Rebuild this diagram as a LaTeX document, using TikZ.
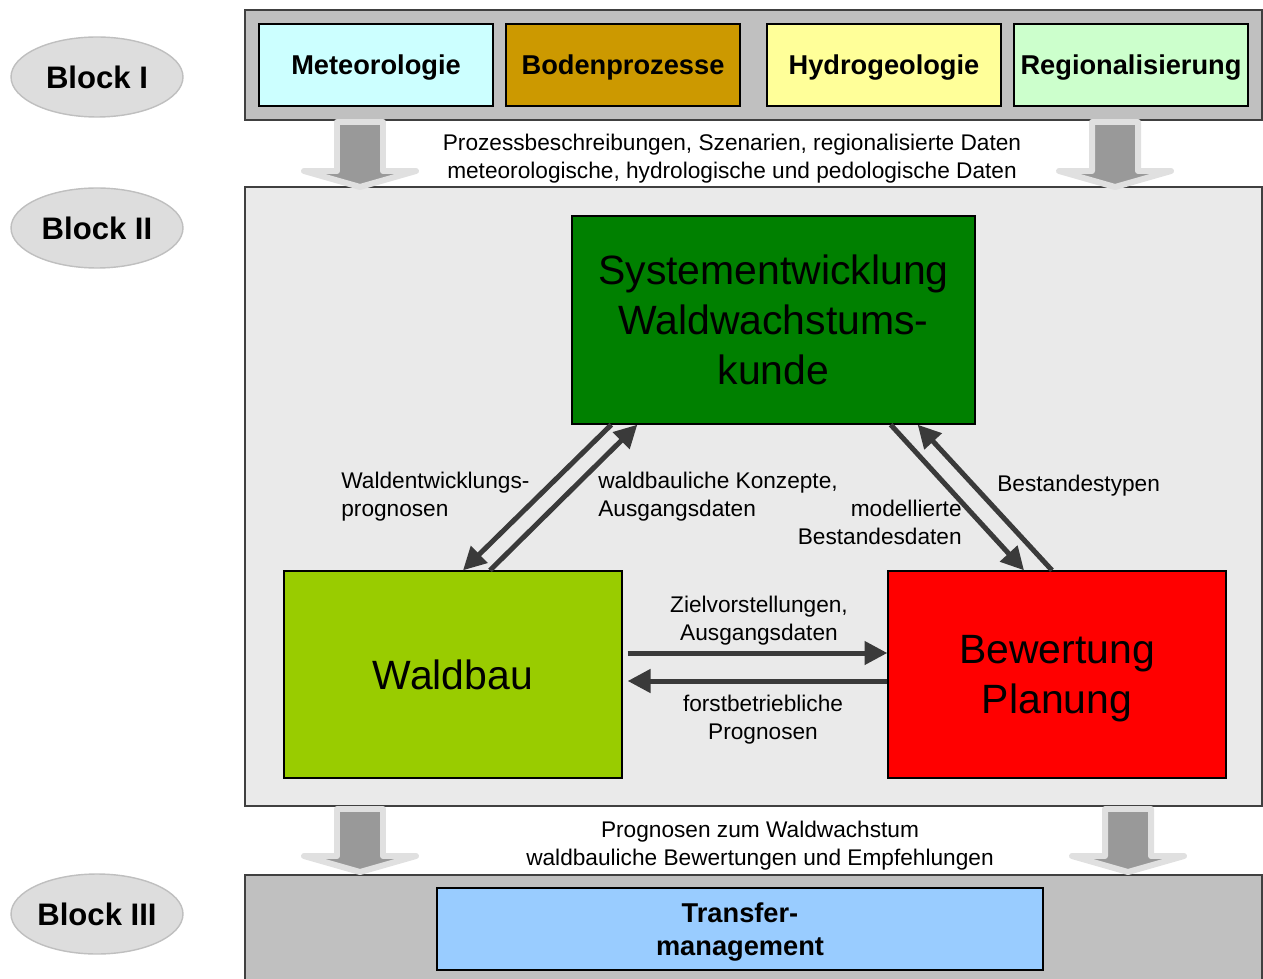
\documentclass[tikz,border=0pt]{standalone}
\usepackage{fontspec}
\setmainfont{Liberation Sans}
\usetikzlibrary{shapes.geometric,arrows.meta,calc}
\definecolor{blockgray}{HTML}{C0C0C0}
\definecolor{innergray}{HTML}{EAEAEA}
\definecolor{ovalgray}{HTML}{DDDDDD}
\definecolor{arrowdark}{HTML}{3A3A3A}
\definecolor{cmet}{HTML}{CCFFFF}
\definecolor{cboden}{HTML}{CC9900}
\definecolor{chydro}{HTML}{FFFF99}
\definecolor{cregio}{HTML}{CCFFCC}
\definecolor{csys}{HTML}{008000}
\definecolor{cwald}{HTML}{99CC00}
\definecolor{cbew}{HTML}{FF0000}
\definecolor{ctrans}{HTML}{99CCFF}
\begin{document}
\begin{tikzpicture}[x=0.02cm,y=-0.02cm,
    block/.style={draw=black!75,line width=0.8pt,fill=blockgray,minimum width=20.34cm,minimum height=2.2cm,inner sep=0pt},
    oval/.style={ellipse,draw=black!25,line width=0.8pt,fill=ovalgray,inner sep=0pt,minimum width=3.44cm,minimum height=1.6cm,font=\fontsize{17.7}{20}\selectfont\bfseries},
    topbox/.style={draw=black,line width=0.8pt,minimum width=4.68cm,minimum height=1.64cm,inner sep=0pt,text depth=-1.8pt,font=\fontsize{15.5}{18}\selectfont\bfseries},
    bigbox/.style={draw=black,line width=0.8pt,minimum width=6.76cm,minimum height=4.14cm,inner sep=0pt,align=center,font=\fontsize{23.3}{28.5}\selectfont},
    lbl/.style={inner sep=0pt,font=\fontsize{12.9}{15.9}\selectfont},
    flow/.style={draw=arrowdark,line width=2.85pt,-{Triangle[length=13pt,width=13pt]}},
    bigarrow/.style={fill=black!40,draw=black!12,line width=3.4pt,line join=round}]
\useasboundingbox (0,0) rectangle (1263,979);

\node[block] (blockI) at (753.5,65) {};
\node[block,fill=innergray,minimum height=12.38cm] (blockII) at (753.5,496.5) {};
\node[block] (blockIII) at (753.5,930) {};

\node[oval] (ovI) at (97,77) {Block I};
\node[oval] (ovII) at (97,228) {Block II};
\node[oval] (ovIII) at (97,914) {Block III};

\node[topbox,fill=cmet] (met) at (376,65) {Meteorologie};
\node[topbox,fill=cboden] (boden) at (623,65) {Bodenprozesse};
\node[topbox,fill=chydro] (hydro) at (884,65) {Hydrogeologie};
\node[topbox,fill=cregio] (regio) at (1131,65) {Regionalisierung};

\foreach \cx/\ya/\yb in {360/122/187, 1115/122/187, 360/809/872, 1128/809/872}
    \draw[bigarrow] (\cx-23,\ya) -- (\cx+23,\ya) -- (\cx+23,\yb-16) -- (\cx+56,\yb-16)
        -- (\cx,\yb) -- (\cx-56,\yb-16) -- (\cx-23,\yb-16) -- cycle;

\node[lbl,align=center] (lblTop) at (732,159) {Prozessbeschreibungen, Szenarien, regionalisierte Daten\\meteorologische, hydrologische und pedologische Daten};
\node[lbl,align=center] (lblBot) at (760,845.5) {Prognosen zum Waldwachstum\\waldbauliche Bewertungen und Empfehlungen};

\node[bigbox,fill=csys,minimum width=8.06cm,minimum height=4.16cm,text depth=-2.3pt] (sys) at (773.5,320) {Systementwicklung\\Waldwachstums-\\kunde};
\node[bigbox,fill=cwald] (waldbau) at (453,674.5) {Waldbau};
\node[bigbox,fill=cbew,text depth=0pt] (bew) at (1057,674.5) {Bewertung\\Planung};

\node[topbox,fill=ctrans,minimum width=12.12cm,align=center,text depth=0pt,font=\fontsize{15.5}{18.8}\selectfont\bfseries] (trans) at (740,929) {Transfer-\\management};

\draw[flow] ($(sys.south west)+(40,0)$) -- ($(waldbau.north)+(10,0)$);
\draw[flow] ($(waldbau.north)+(37,0)$) -- ($(sys.south west)+(66,0)$);
\draw[flow] ($(sys.south east)+(-85,0)$) -- ($(bew.north)+(-33,0)$);
\draw[flow] ($(bew.north)+(-5,0)$) -- ($(sys.south east)+(-58,0)$);
\draw[flow] ($(waldbau.east)+(5,-21.5)$) -- ($(bew.west)+(0,-21.5)$);
\draw[flow] ($(bew.west)+(0,6.5)$) -- ($(waldbau.east)+(5,6.5)$);

\node[lbl,align=left,anchor=west] (lblWE) at (341,497) {Waldentwicklungs-\\prognosen};
\node[lbl,align=left,anchor=west] (lblWK) at (598,497) {waldbauliche Konzepte,\\Ausgangsdaten};
\node[lbl,align=right,anchor=east] (lblMB) at (962,522) {modellierte\\Bestandesdaten};
\node[lbl,anchor=west] (lblBT) at (997,486) {Bestandestypen};
\node[lbl,align=center] (lblZV) at (759,620.5) {Zielvorstellungen,\\Ausgangsdaten};
\node[lbl,align=center] (lblFP) at (763,720) {forstbetriebliche\\Prognosen};
\end{tikzpicture}
\end{document}
